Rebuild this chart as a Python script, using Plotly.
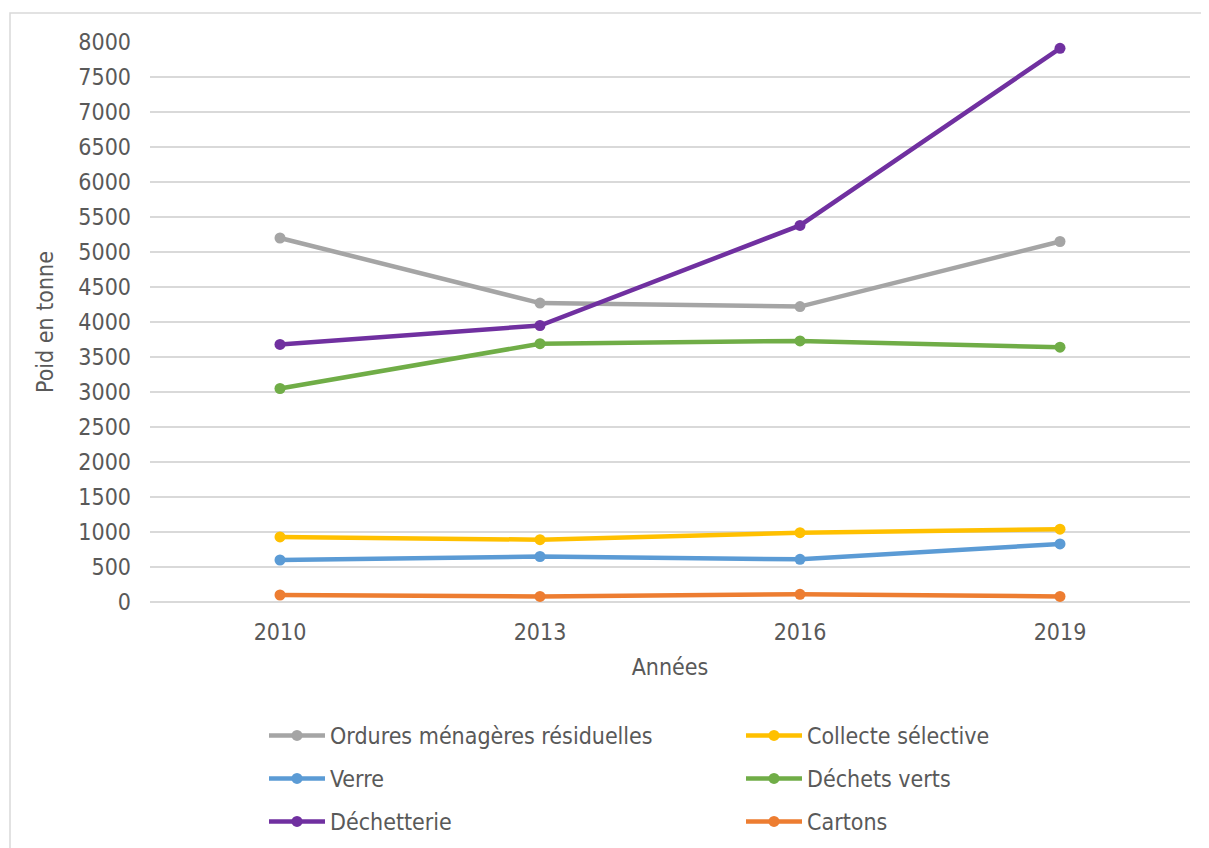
import plotly.graph_objects as go

years = ["2010", "2013", "2016", "2019"]
series_names = ["Ordures ménagères résiduelles", "Collecte sélective", "Verre",
                "Déchets verts", "Déchetterie", "Cartons"]
ordures = [5200, 4270, 4220, 5150]
collecte = [930, 890, 990, 1040]
verre = [600, 650, 610, 830]
dechets_verts = [3050, 3690, 3730, 3640]
dechetterie = [3680, 3950, 5380, 7910]
cartons = [100, 80, 110, 80]
colors = ["#A5A5A5", "#FFC000", "#5B9BD5", "#70AD47", "#7030A0", "#ED7D31"]
y_ticks = list(range(0, 8001, 500))

values = [ordures, collecte, verre, dechets_verts, dechetterie, cartons]
legend_ids = ["legend", "legend", "legend2", "legend2", "legend3", "legend3"]
FONT = "DejaVu Sans Condensed, DejaVu Sans, sans-serif"
TXT = "#595959"
FS = 23

fig = go.Figure()
for name, vals, col, lg in zip(series_names, values, colors, legend_ids):
    fig.add_trace(go.Scatter(
        x=years, y=vals, name=name, mode="lines+markers",
        line=dict(color=col, width=4.5),
        marker=dict(color=col, size=11),
        legend=lg,
    ))


def leg(top):
    return dict(
        orientation="h", xref="container", yref="container",
        x=256 / 1209, y=1 - top / 848, xanchor="left", yanchor="top",
        entrywidth=406, entrywidthmode="pixels",
        font=dict(family=FONT, size=FS, color=TXT),
        itemwidth=56, bgcolor="rgba(0,0,0,0)",
    )


fig.update_layout(
    width=1209, height=848,
    paper_bgcolor="white", plot_bgcolor="white",
    margin=dict(l=142, r=27, t=34, b=254),
    font=dict(family=FONT, size=FS, color=TXT),
    showlegend=True,
    legend=leg(706), legend2=leg(749), legend3=leg(792),
    xaxis=dict(
        type="category", range=[-0.5, 3.5],
        showgrid=False, showline=False, ticks="", zeroline=False,
        ticklabelstandoff=14,
        tickfont=dict(size=FS, color=TXT),
        title=dict(text="Années", font=dict(size=FS, color=TXT), standoff=14),
    ),
    yaxis=dict(
        range=[0, 8000], tickvals=y_ticks, ticktext=[str(v) for v in y_ticks],
        showgrid=True, gridcolor="#D9D9D9", gridwidth=1.5,
        zeroline=True, zerolinecolor="#D9D9D9", zerolinewidth=1.5,
        showline=False, ticks="", ticklabelstandoff=18,
        tickfont=dict(size=FS, color=TXT),
        title=dict(text="Poid en tonne", font=dict(size=FS, color=TXT), standoff=18),
    ),
    shapes=[dict(type="rect", xref="paper", yref="paper",
                 x0=-140 / 1040, x1=1.2, y0=-0.5, y1=1 + 29 / 560,
                 line=dict(color="#D9D9D9", width=1.5), fillcolor="rgba(0,0,0,0)",
                 layer="below")],
)

fig.write_html("out.html")
